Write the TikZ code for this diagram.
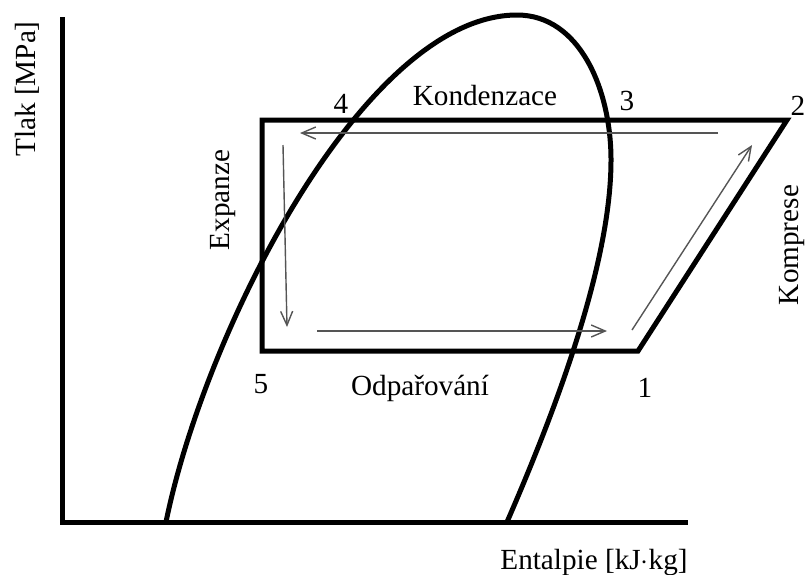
\documentclass[tikz,border=0pt]{standalone}
\usepackage{fontspec}
\setmainfont{Liberation Serif}
\usetikzlibrary{arrows.meta}
\definecolor{flow}{HTML}{555555}

\begin{document}
\begin{tikzpicture}[x=0.5pt,y=-0.5pt,
  heavy/.style={line width=2.5pt},
  flowarrow/.style={flow, line width=0.7pt, -{Straight Barb[length=7pt,width=6pt]}},
  lbl/.style={font=\fontsize{14.6}{17}\selectfont, inner sep=0pt, anchor=base},
  vlbl/.style={lbl, anchor=center, rotate=90}]
  \useasboundingbox (0,0) rectangle (806,574);
  % axes
  \coordinate (o) at (62,522);
  \coordinate (ytop) at (62,17);
  \coordinate (xend) at (688,522);
  \draw[heavy] (ytop) -- (o) -- (xend);
  \node[vlbl] (tlak) at (27,89) {Tlak [MPa]};
  \node[lbl] (entalpie) at (594,569) {Entalpie [kJ$\cdot$kg]};
  % saturation dome
  \coordinate (dl) at (166,522);
  \coordinate (dtop) at (517,15);
  \coordinate (dr) at (611,160);
  \coordinate (dend) at (507,522);
  \draw[heavy] (dl) .. controls (205,330) and (365,15) .. (dtop)
    .. controls (580,15) and (611,90) .. (dr)
    .. controls (611,260) and (560,400) .. (dend);
  % cycle
  \coordinate (c5) at (262,351);
  \coordinate (c1) at (638,351);
  \coordinate (c2) at (787,120);
  \coordinate (ctl) at (262,120);
  \draw[heavy] (ctl) -- (c2) -- (c1) -- (c5) -- cycle;
  \coordinate (kA) at (718,133);  \coordinate (kB) at (300,133);
  \coordinate (eA) at (283,145);  \coordinate (eB) at (287,327);
  \coordinate (oA) at (317,331);  \coordinate (oB) at (607,331);
  \coordinate (pA) at (632,330);  \coordinate (pB) at (752,145);
  \draw[flowarrow] (kA) -- (kB);
  \draw[flowarrow] (eA) -- (eB);
  \draw[flowarrow] (oA) -- (oB);
  \draw[flowarrow] (pA) -- (pB);
  % labels
  \node[lbl] (n4) at (341,113) {4};
  \node[lbl] (n3) at (627,110) {3};
  \node[lbl] (n2) at (798,115) {2};
  \node[lbl] (n1) at (645,397) {1};
  \node[lbl] (n5) at (261,393) {5};
  \node[lbl] (kond) at (485,105) {Kondenzace};
  \node[lbl] (odpar) at (420,395) {Odpařování};
  \node[vlbl] (exp) at (223,200) {Expanze};
  \node[vlbl] (komp) at (792,245) {Komprese};
\end{tikzpicture}
\end{document}
